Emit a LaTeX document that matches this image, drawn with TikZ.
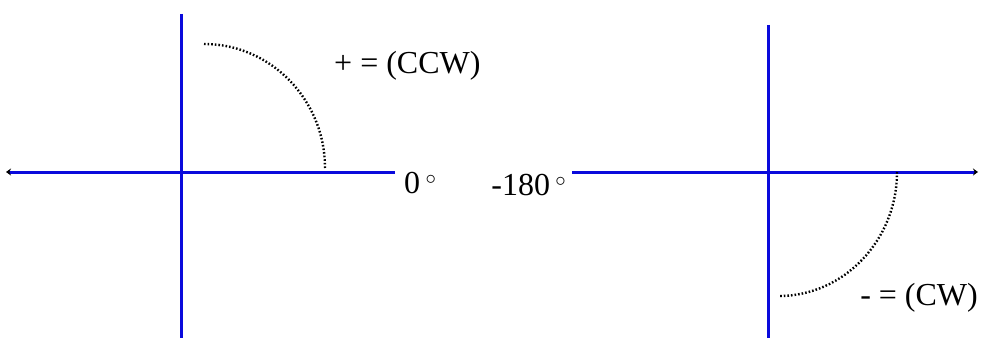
\documentclass[tikz,border=0pt]{standalone}
\usepackage{fontspec}
\setmainfont{Liberation Serif}
\usetikzlibrary{arrows.meta}
\definecolor{axisblue}{RGB}{10,10,220}
\newcommand{\degsym}{\raisebox{9pt}{\fontsize{22}{22}\selectfont$\circ$}}
\tikzset{
  axis/.style={draw=axisblue, line width=3pt},
  arcpath/.style={draw=black, line width=2.4pt, dash pattern=on 1.6pt off 2pt},
  lbl/.style={font=\fontsize{32}{35}\selectfont, inner sep=0pt, text=black},
}
\begin{document}
\begin{tikzpicture}[x=1pt,y=-1pt]
\useasboundingbox (0,0) rectangle (981,339);
% left diagram
\coordinate (L1) at (6,172);
\coordinate (L2) at (395,172);
\coordinate (V1t) at (181,14);
\coordinate (V1b) at (181,338);
\coordinate (A1s) at (204,44);
\coordinate (A1e) at (325,168);
\draw[axis, {Stealth[black,length=5pt,width=7pt]}-] (L1) -- (L2);
\draw[axis] (V1t) -- (V1b);
\draw[arcpath] (A1s) .. controls (271,44) and (325,100) .. (A1e);
\node[lbl, anchor=west] (ccw) at (334,66) {+ = (CCW)};
\node[lbl, anchor=west] (zero) at (404,183) {0\,\degsym};
% right diagram
\coordinate (R1) at (572,172);
\coordinate (R2) at (978,172);
\coordinate (V2t) at (768,25);
\coordinate (V2b) at (768,338);
\coordinate (A2s) at (897,172);
\coordinate (A2e) at (779,296);
\draw[axis, -{Stealth[black,length=5pt,width=7pt]}] (R1) -- (R2);
\draw[axis] (V2t) -- (V2b);
\draw[arcpath] (A2s) .. controls (897,240) and (844,296) .. (A2e);
\node[lbl, anchor=east] (m180) at (566,185) {-180\,\degsym};
\node[lbl, anchor=east] (cw) at (978,298) {- = (CW)};
\end{tikzpicture}
\end{document}
